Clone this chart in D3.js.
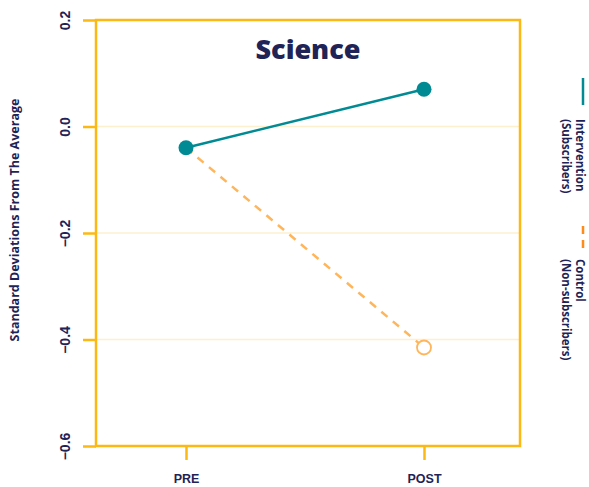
<!DOCTYPE html>
<html><head><meta charset="utf-8">
<script src="https://cdn.jsdelivr.net/npm/d3@7"></script>
<style>body{margin:0;background:#fff}svg{display:block;font-family:"Open Sans",Lato,sans-serif}</style>
</head><body>
<svg id="c" width="589" height="487"></svg>
<script>
const categories = ["PRE", "POST"];
const interventionValues = [-0.04, 0.07];
const controlValues = [-0.04, -0.415];
const yTicks = [0.2, 0.0, -0.2, -0.4, -0.6];
const yTickLabels = ["0.2", "0.0", "\u22120.2", "\u22120.4", "\u22120.6"];
const seriesNames = [["Intervention", "(Subscribers)"], ["Control", "(Non-subscribers)"]];

const navy = "#1f2356", gold = "#fcb813", teal = "#008b94", orange = "#ffb55a";
const svg = d3.select("#c");
const L = 96, R = 520, T = 20, B = 446;
const y = d3.scaleLinear().domain([-0.6, 0.2]).range([B, T]);
const x = d3.scalePoint().domain(categories).range([186, 424]);

// gridlines
svg.append("g").selectAll("line").data(yTicks.filter(v => v > -0.6 && v < 0.2)).join("line")
  .attr("x1", L).attr("x2", R).attr("y1", d => y(d)).attr("y2", d => y(d))
  .attr("stroke", "#fdf0cf").attr("stroke-width", 1.5);

// frame
svg.append("rect").attr("x", L).attr("y", T).attr("width", R - L).attr("height", B - T)
  .attr("fill", "none").attr("stroke", gold).attr("stroke-width", 2.5);

// y axis
const yAxis = svg.append("g").attr("transform", `translate(${L},0)`)
  .call(d3.axisLeft(y).tickValues(yTicks).tickSize(13).tickFormat((d, i) => yTickLabels[i]));
yAxis.select(".domain").remove();
yAxis.selectAll(".tick line").attr("stroke", gold).attr("stroke-width", 2.5);
yAxis.selectAll(".tick text").attr("fill", navy).attr("font-size", 14).attr("font-weight", 800)
  .attr("x", 0).attr("dy", 0).attr("text-anchor", "middle")
  .attr("transform", "translate(-26,0) rotate(-90)");

// x axis
const xAxis = svg.append("g").attr("transform", `translate(0,${B})`)
  .call(d3.axisBottom(x).tickSize(14).tickPadding(0));
xAxis.select(".domain").remove();
xAxis.selectAll(".tick line").attr("stroke", gold).attr("stroke-width", 2.5);
xAxis.selectAll(".tick text").attr("fill", navy).attr("font-size", 12.5).attr("font-weight", 800)
  .attr("y", 37).attr("dy", 0);

// y title
svg.append("text").attr("transform", "translate(19,220) rotate(-90)").attr("text-anchor", "middle")
  .attr("fill", navy).attr("font-size", 12.5).attr("font-weight", 700)
  .text("Standard Deviations From The Average");

// title
svg.append("text").attr("x", 308).attr("y", 59).attr("text-anchor", "middle")
  .attr("fill", navy).attr("font-size", 27).attr("font-weight", 800).text("Science");

const line = d3.line().x((d, i) => x(categories[i])).y(d => y(d));
// control
svg.append("path").datum(controlValues).attr("d", line).attr("fill", "none")
  .attr("stroke", orange).attr("stroke-width", 2.5).attr("stroke-dasharray", "8,7");
// intervention
svg.append("path").datum(interventionValues).attr("d", line).attr("fill", "none")
  .attr("stroke", teal).attr("stroke-width", 2.5);
svg.append("g").selectAll("circle").data(controlValues.slice(1)).join("circle")
  .attr("cx", x("POST")).attr("cy", d => y(d)).attr("r", 7)
  .attr("fill", "#fff").attr("stroke", orange).attr("stroke-width", 1.8);
svg.append("g").selectAll("circle").data(interventionValues).join("circle")
  .attr("cx", (d, i) => x(categories[i])).attr("cy", d => y(d)).attr("r", 7.5)
  .attr("fill", teal);

// legend (rotated)
const lg = svg.append("g");
lg.append("line").attr("x1", 583).attr("x2", 583).attr("y1", 78).attr("y2", 105)
  .attr("stroke", teal).attr("stroke-width", 2.5);
lg.append("line").attr("x1", 583).attr("x2", 583).attr("y1", 226).attr("y2", 253)
  .attr("stroke", "#ff8c1a").attr("stroke-width", 2.5).attr("stroke-dasharray", "8,6");
const legY = [119, 259];
seriesNames.forEach((names, i) => {
  const t = lg.append("text").attr("transform", `translate(576,${legY[i]}) rotate(90)`)
    .attr("fill", navy).attr("font-size", 11.5).attr("font-weight", 700);
  names.forEach((n, j) => t.append("tspan").attr("x", 0).attr("dy", j === 0 ? 0 : 14.5).text(n));
});
</script>
</body></html>
